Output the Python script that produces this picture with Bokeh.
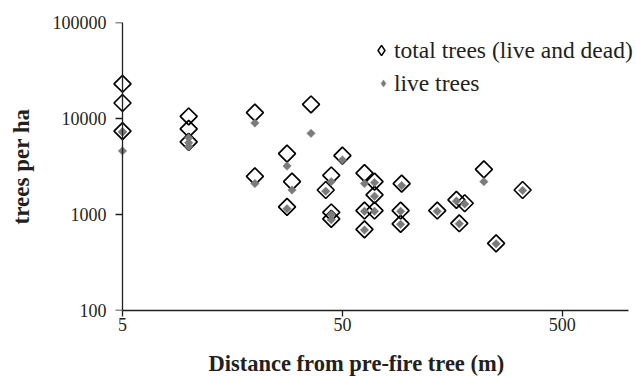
import math
from bokeh.plotting import figure
from bokeh.models import (ColumnDataSource, FixedTicker, NumeralTickFormatter,
                          CustomJSTickFormatter, LogAxis, Legend, LegendItem, Range1d,
                          Title)
from bokeh.embed import file_html
from bokeh.resources import INLINE

# Distance to the nearest pre-fire tree (m) and stand density (trees per ha)
distance_m = [5, 5, 5, 10, 10, 10, 20, 20, 28, 28, 29.5, 36, 42, 44.5, 44.5, 44.5,
              50, 63, 63, 63, 70, 70, 70, 93, 92, 92, 135, 165, 180, 170, 220, 250, 330]
total_trees = [23000, 14500, 7400, 10500, 7800, 5700, 11500, 2500, 4300, 1200, 2200,
               14000, 1800, 2550, 1050, 900, 4100, 2700, 1100, 700, 2200, 1600, 1100,
               2100, 1100, 800, 1100, 1420, 1310, 810, 2950, 500, 1800]
live_trees = [4600, 7300, 7200, 6300, 5600, 5100, 9000, 2100, 3200, 1150, 1800,
              7000, 1750, 2200, 1000, 880, 3700, 2100, 1080, 690, 2150, 1550, 1080,
              2000, 1080, 790, 1080, 1380, 1290, 800, 2200, 495, 1780]

x_ticks = [5, 50, 500]
y_ticks = [100, 1000, 10000, 100000]
X_MIN, X_MAX = 5, 1000
Y_MIN, Y_MAX = 100, 100000

SERIF = "Liberation Serif"
INK = "#231f20"
GREY = "#7b7b7b"

# The frame is a little wider than the axes on both sides, so that markers on
# the y axis and the legend text at the right edge are not clipped.
AXIS_LEFT = 122          # pixel position of x = 5
PAD_L, PAD_R = 12, 8
DECADE_PX = 220
x_lo = X_MIN / 10 ** (PAD_L / DECADE_PX)
x_hi = X_MAX * 10 ** (PAD_R / DECADE_PX)
FRAME_LEFT = AXIS_LEFT - PAD_L

src = ColumnDataSource(dict(x=distance_m, total=total_trees, live=live_trees))

p = figure(width=636, height=376, x_axis_type="log", y_axis_type="log",
           x_range=Range1d(x_lo, x_hi), y_range=Range1d(Y_MIN, Y_MAX),
           output_backend="svg", toolbar_location=None,
           min_border_left=FRAME_LEFT, min_border_right=0, min_border_top=22,
           min_border_bottom=66)
p.background_fill_color = "white"
p.border_fill_color = "white"
p.outline_line_color = None
p.grid.visible = False

# x axis
xa = p.xaxis[0]
xa.ticker = FixedTicker(ticks=x_ticks)
xa.formatter = NumeralTickFormatter(format="0")
xa.bounds = (X_MIN, X_MAX)
xa.axis_line_color = INK
xa.axis_line_width = 1.3
xa.major_tick_line_color = INK
xa.major_tick_line_width = 1.3
xa.major_tick_in = 0
xa.major_tick_out = 6
xa.minor_tick_line_color = None
xa.major_label_standoff = 1
xa.major_label_text_font = SERIF
xa.major_label_text_font_size = "18px"
xa.major_label_text_color = INK

# empty strip between the tick labels and the x title
gap = LogAxis(ticker=FixedTicker(ticks=x_ticks),
              formatter=CustomJSTickFormatter(code="return ''"),
              axis_line_color=None, major_tick_line_color=None,
              minor_tick_line_color=None, major_tick_in=0, major_tick_out=15,
              major_label_standoff=0, major_label_text_font_size="0px")
p.add_layout(gap, "below")

# x axis title
p.add_layout(Title(text="Distance from pre-fire tree (m)", align="left",
                   offset=208 - FRAME_LEFT, vertical_align="bottom", standoff=0,
                   text_font=SERIF, text_font_style="bold", text_font_size="22.5px",
                   text_color=INK), "below")

# y axis labels (left panel) ...
ya = p.yaxis[0]
ya.ticker = FixedTicker(ticks=y_ticks)
ya.formatter = NumeralTickFormatter(format="0")
ya.axis_line_color = None
ya.major_tick_line_color = None
ya.minor_tick_line_color = None
ya.major_tick_in = 0
ya.major_tick_out = 0
ya.major_label_standoff = 4
ya.major_label_text_font = SERIF
ya.major_label_text_font_size = "18px"
ya.major_label_text_color = INK
ya.axis_label = "trees per ha"
ya.axis_label_text_font = SERIF
ya.axis_label_text_font_style = "bold"
ya.axis_label_text_font_size = "23px"
ya.axis_label_text_color = INK
ya.axis_label_standoff = 16

# ... and its line and ticks, pinned at x = 5
y_rule = LogAxis(ticker=FixedTicker(ticks=y_ticks), fixed_location=X_MIN,
                 formatter=CustomJSTickFormatter(code="return ''"),
                 axis_line_color=INK, axis_line_width=1.3,
                 major_tick_line_color=INK, major_tick_line_width=1.3,
                 major_tick_in=7, major_tick_out=0, minor_tick_line_color=None,
                 major_label_standoff=0, major_label_text_font_size="0px")
p.add_layout(y_rule, "right")

# total trees: open diamonds; live trees: small grey diamonds drawn on top
r_total = p.scatter("x", "total", source=src, marker="square", angle=math.pi / 4,
                    size=12, fill_color=None, line_color="black", line_width=1.7)
r_live = p.scatter("x", "live", source=src, marker="square", angle=math.pi / 4,
                   size=6, fill_color=GREY, line_color=GREY, line_width=0.5)

# legend swatches (diamond markers, drawn at legend scale)
nan_src = ColumnDataSource(dict(x=[float("nan")], y=[float("nan")]))
lg_total = p.scatter("x", "y", source=nan_src, marker="diamond",
                     fill_color=None, line_color="black", line_width=1.5)
lg_live = p.scatter("x", "y", source=nan_src, marker="diamond",
                    fill_color=GREY, line_color=GREY, line_width=0.5)

common = dict(padding=0, margin=0, label_text_font=SERIF, label_text_font_size="23.5px",
              label_text_color=INK, border_line_color=None, background_fill_alpha=0)
legend_total = Legend(items=[LegendItem(label="total trees (live and dead)",
                                        renderers=[lg_total])],
                      location=(368 - FRAME_LEFT, 245), glyph_width=26, glyph_height=30,
                      label_height=30, label_standoff=0, **common)
legend_live = Legend(items=[LegendItem(label="live trees", renderers=[lg_live])],
                     location=(374 - FRAME_LEFT, 212), glyph_width=18, glyph_height=30,
                     label_height=30, label_standoff=2, **common)
p.add_layout(legend_total, "center")
p.add_layout(legend_live, "center")

open("out.html", "w").write(file_html(p, INLINE))
